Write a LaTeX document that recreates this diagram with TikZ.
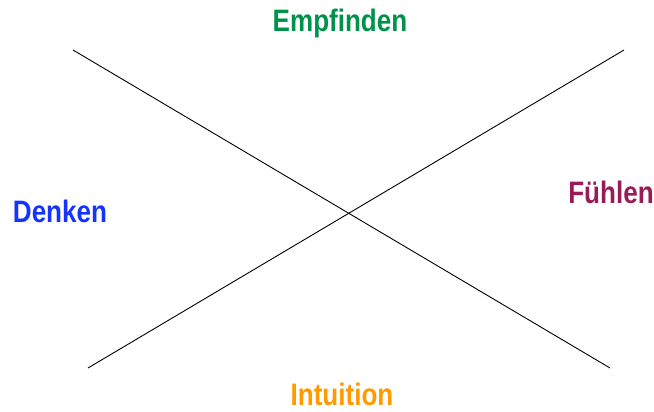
\documentclass[tikz,border=0pt]{standalone}
\usepackage{fontspec}
\setmainfont{Liberation Sans}[FakeStretch=0.84]
\definecolor{empfgreen}{HTML}{00924A}
\definecolor{denkblue}{HTML}{1433FF}
\definecolor{fuehlred}{HTML}{981C58}
\definecolor{intorange}{HTML}{FF9A00}
\tikzset{lbl/.style={font=\bfseries\fontsize{31}{33}\selectfont, inner sep=0pt}}

\begin{document}
\begin{tikzpicture}[x=1pt,y=-1pt]
                    \useasboundingbox (0,0) rectangle (654,412);
                    \coordinate (tl) at (73,50);
                    \coordinate (br) at (610,368);
                    \coordinate (bl) at (88,368);
                    \coordinate (tr) at (624,50);
                    \draw [line width=0.9pt] (tl) -- (br);
                    \draw [line width=0.9pt] (bl) -- (tr);
                    \node [lbl,empfgreen] (empf) at (340,23) {Empfinden};
                    \node [lbl,denkblue] (denk) at (60,211) {Denken};
                    \node [lbl,fuehlred] (fuehl) at (611,192) {Fühlen};
                    \node [lbl,intorange] (intu) at (342,394) {Intuition};
                \end{tikzpicture}
\end{document}
